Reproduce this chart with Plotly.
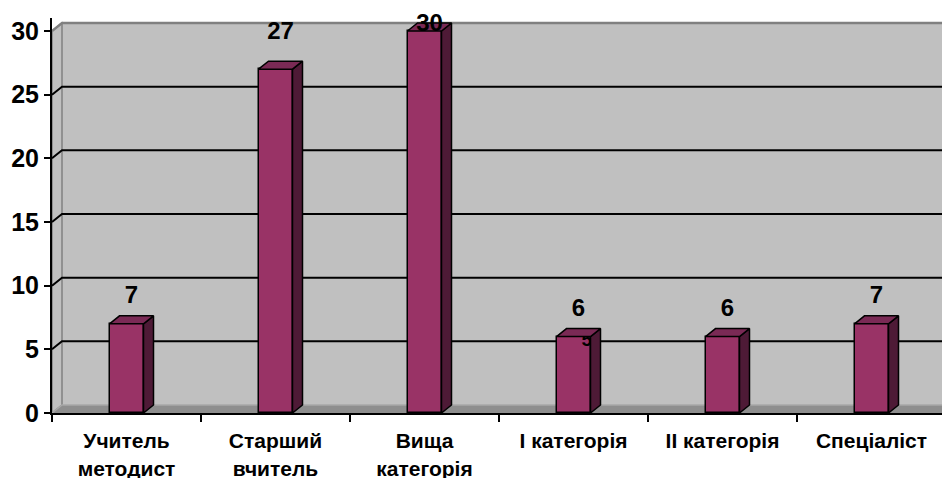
import plotly.graph_objects as go

# ---- data ----
categories = ["Учитель<br>методист", "Старший<br>вчитель", "Вища<br>категорія",
              "І категорія", "ІІ категорія", "Спеціаліст"]
values = [7, 27, 30, 6, 6, 7]
y_ticks = [0, 5, 10, 15, 20, 25, 30]

# ---- geometry (pixels -> axis units) ----
W, H = 942, 478
ML, MB, MT = 52, 65, 18
PX_PER_CAT = 149.0
PX_PER_UNIT = 382.0 / 30.0
X0 = -0.5
X1 = X0 + (W - ML) / PX_PER_CAT
Y1 = (H - MB - MT) / PX_PER_UNIT
DX = 10.0 / PX_PER_CAT      # 3D depth offset (x)
DY = 8.0 / PX_PER_UNIT      # 3D depth offset (y)
BW = 34.0 / PX_PER_CAT      # bar width
YMAX = y_ticks[-1]

FONT = "Arial, 'Liberation Sans', sans-serif"
FRONT = "#993366"
SIDE = "#4E1A36"
TOP = "#7A2A55"
WALL = "#C0C0C0"
FLOOR = "#8E8E8E"
EDGE = "#808080"

shapes = []
# back wall
shapes.append(dict(type="rect", xref="x", yref="y", x0=X0 + DX, x1=X1, y0=DY, y1=YMAX + DY,
                   fillcolor=WALL, line=dict(width=0), layer="below"))
# left side wall
shapes.append(dict(type="path", xref="x", yref="y",
                   path=f"M {X0},0 L {X0+DX},{DY} L {X0+DX},{YMAX+DY} L {X0},{YMAX} Z",
                   fillcolor=WALL, line=dict(color=EDGE, width=1.5), layer="below"))
# floor
shapes.append(dict(type="path", xref="x", yref="y",
                   path=f"M {X0},0 L {X0+DX},{DY} L {X1},{DY} L {X1},0 Z",
                   fillcolor=FLOOR, line=dict(width=0), layer="below"))
shapes.append(dict(type="path", xref="x", yref="y",
                   path=f"M {X0},0 L {X0+DX},{DY} L {X1},{DY}",
                   line=dict(color="#A8A8A8", width=1.5), layer="below"))
# grid lines on walls
for v in y_ticks[1:-1]:
    shapes.append(dict(type="path", xref="x", yref="y",
                       path=f"M {X0},{v} L {X0+DX},{v+DY} L {X1},{v+DY}",
                       line=dict(color="black", width=2), layer="below"))
# top edge of walls
shapes.append(dict(type="path", xref="x", yref="y",
                   path=f"M {X0},{YMAX} L {X0+DX},{YMAX+DY} L {X1},{YMAX+DY}",
                   line=dict(color=EDGE, width=2.5), layer="below"))

fig = go.Figure()

xs = list(range(len(values)))
fig.add_trace(go.Bar(x=xs, y=values, width=BW, marker=dict(color=FRONT, line=dict(color="black", width=1.5)),
                     hoverinfo="skip", showlegend=False))

# stray "5" glyph seen in the reference, partly hidden by the bar top
fig.add_trace(go.Scatter(x=[3 + 0.09], y=[5.6], mode="text", text=["5"],
                         textfont=dict(family=FONT, size=19, color="black", weight="bold"),
                         cliponaxis=False, showlegend=False, hoverinfo="skip"))

for i, v in zip(xs, values):
    l, r = i - BW / 2, i + BW / 2
    # side face
    fig.add_trace(go.Scatter(x=[r, r + DX, r + DX, r, r], y=[0, DY, v + DY, v, 0],
                             mode="lines", fill="toself", fillcolor=SIDE,
                             line=dict(color="black", width=1.5), showlegend=False, hoverinfo="skip"))
    # top face
    fig.add_trace(go.Scatter(x=[l, l + DX, r + DX, r, l], y=[v, v + DY, v + DY, v, v],
                             mode="lines", fill="toself", fillcolor=TOP,
                             line=dict(color="black", width=1.5), showlegend=False, hoverinfo="skip"))

label_y = [min(v + 1.9 + 0.035 * v, YMAX + 0.45) for v in values]
fig.add_trace(go.Scatter(x=[i + DX / 2 for i in xs], y=label_y, mode="text",
                         text=[str(v) for v in values],
                         textfont=dict(family=FONT, size=24, color="black", weight="bold"),
                         cliponaxis=False, showlegend=False, hoverinfo="skip"))

fig.update_layout(
    width=W, height=H,
    margin=dict(l=ML, r=0, t=MT, b=MB, pad=0, autoexpand=False),
    paper_bgcolor="white", plot_bgcolor="white",
    shapes=shapes,
    bargap=0,
    xaxis=dict(range=[X0, X1], tickmode="array", tickvals=xs, ticktext=categories,
               automargin=False,
               showgrid=False, zeroline=False, showline=True, linecolor="black", linewidth=2,
               ticks="", ticklabelstandoff=8,
               tickfont=dict(family=FONT, size=21, color="black", weight="bold"),
               minor=dict(tickmode="array", tickvals=[X0 + k for k in range(len(values))],
                          ticks="outside", ticklen=7, tickwidth=2, tickcolor="black", showgrid=False)),
    yaxis=dict(range=[0, Y1], tickmode="array", tickvals=y_ticks,
               automargin=False,
               showgrid=False, zeroline=False, showline=True, linecolor="black", linewidth=2,
               ticks="outside", ticklen=6, tickwidth=2, tickcolor="black", ticklabelstandoff=0,
               tickfont=dict(family=FONT, size=25, color="black", weight="bold")),
)

fig.write_html("out.html", config={"displayModeBar": False},
               post_script="document.body.style.margin='0';document.body.style.overflow='hidden';")
